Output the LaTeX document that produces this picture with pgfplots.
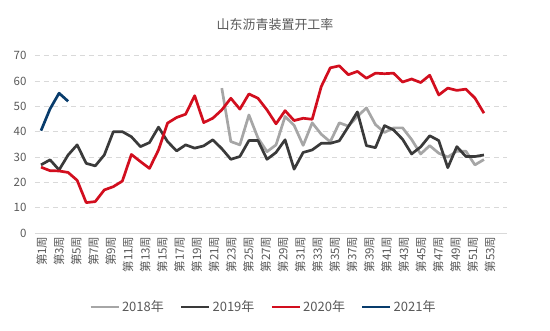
\documentclass[border=0pt]{standalone}
\usepackage{pgfplots}
\pgfplotsset{compat=1.18}
\usepackage{fontspec}
\setmainfont{Noto Sans CJK SC}
\definecolor{c18}{RGB}{166,166,166}
\definecolor{c19}{RGB}{58,58,58}
\definecolor{c20}{RGB}{210,14,30}
\definecolor{c21}{RGB}{8,60,108}
\definecolor{gridc}{RGB}{217,217,217}
\definecolor{txtc}{RGB}{89,89,89}
\begin{document}
\begin{tikzpicture}[x=1pt,y=1pt]
\path[use as bounding box] (0,0) rectangle (550,330);
\node[font=\fontsize{13}{15}\selectfont, text=txtc] at (275,305) {山东沥青装置开工率};
\begin{axis}[
  at={(35pt,97pt)}, anchor=south west,
  width=472pt, height=177.3pt, scale only axis,
  xmin=0.336, xmax=52.55, ymin=0, ymax=70,
  axis x line*=bottom, axis y line*=left,
  x axis line style={draw=gridc, line width=1pt, -},
  y axis line style={draw=none},
  major tick length=0pt,
  ytick={0,10,20,30,40,50,60,70},
  ymajorgrids,
  major grid style={draw=gridc, line width=0.9pt, dash pattern=on 5pt off 4pt},
  /pgf/number format/assume math mode=true,
  yticklabel style={font=\fontsize{11.5}{12}\selectfont, text=txtc, xshift=-5pt},
  xtick={0.635,2.542,4.449,6.356,8.263,10.170,12.077,13.984,15.891,17.798,19.705,21.612,23.519,25.426,27.333,29.240,31.147,33.054,34.961,36.868,38.775,40.682,42.589,44.496,46.403,48.310,50.217},
  xticklabels={第1周,第3周,第5周,第7周,第9周,第11周,第13周,第15周,第17周,第19周,第21周,第23周,第25周,第27周,第29周,第31周,第33周,第35周,第37周,第39周,第41周,第43周,第45周,第47周,第49周,第51周,第53周},
  xticklabel style={rotate=90, anchor=east, font=\fontsize{11.5}{12}\selectfont, text=txtc, yshift=-4pt},
  legend columns=4,
  legend style={at={(0.484,-0.417)}, anchor=center, draw=none, fill=none,
    font=\fontsize{13}{14}\selectfont, text=txtc,
    /tikz/every even column/.append style={column sep=14pt},
    /tikz/every odd column/.append style={column sep=0pt}},
  legend image code/.code={\draw[#1] (0pt,0pt) -- (28pt,0pt);},
  legend cell align=left,
]
\addplot[c18, line width=2.7pt, line join=round] coordinates {
(21,57.2) (22,36.1) (23,34.8) (24,46.6) (25,37.5) (26,32.1) (27,34.8) (28,46.0) (29,42.5) (30,34.6)
(31,43.5) (32,39.0) (33,36.0) (34,43.5) (35,42.2) (36,46.0) (37,49.4) (38,42.8) (39,39.7) (40,41.5)
(41,41.5) (42,36.9) (43,31.2) (44,34.5) (45,31.5) (46,30.0) (47,32.3) (48,32.3) (49,26.9) (50,29.0)
};
\addlegendentry{2018年}
\addplot[c19, line width=2.7pt, line join=round] coordinates {
(1,26.9) (2,28.9) (3,24.9) (4,30.8) (5,34.8) (6,27.5) (7,26.5) (8,30.8) (9,40.0) (10,40.0)
(11,38.0) (12,34.1) (13,35.7) (14,41.8) (15,36.1) (16,32.4) (17,34.8) (18,33.5) (19,34.4) (20,36.8)
(21,33.3) (22,29.1) (23,30.2) (24,36.5) (25,36.5) (26,29.1) (27,31.8) (28,36.8) (29,25.2) (30,31.8)
(31,32.8) (32,35.4) (33,35.4) (34,36.4) (35,42.0) (36,47.8) (37,34.5) (38,33.7) (39,42.4) (40,40.7)
(41,37.0) (42,31.2) (43,34.0) (44,38.4) (45,36.5) (46,25.8) (47,34.1) (48,30.2) (49,30.2) (50,30.8)
};
\addlegendentry{2019年}
\addplot[c20, line width=2.7pt, line join=round] coordinates {
(1,26.0) (2,24.6) (3,24.5) (4,23.9) (5,20.8) (6,12.0) (7,12.4) (8,17.0) (9,18.3) (10,20.5)
(11,31.0) (12,28.2) (13,25.5) (14,32.8) (15,43.4) (16,45.6) (17,46.9) (18,54.2) (19,43.6) (20,45.3)
(21,48.6) (22,53.2) (23,48.9) (24,54.9) (25,53.2) (26,48.6) (27,43.1) (28,48.3) (29,44.4) (30,45.3)
(31,44.9) (32,57.8) (33,65.2) (34,66.0) (35,62.5) (36,63.8) (37,61.1) (38,63.1) (39,62.9) (40,63.1)
(41,59.6) (42,60.8) (43,59.4) (44,62.3) (45,54.5) (46,57.2) (47,56.3) (48,56.8) (49,53.3) (50,47.3)
};
\addlegendentry{2020年}
\addplot[c21, line width=2.7pt, line join=round] coordinates {
(1,40.4) (2,49.0) (3,55.2) (4,52.0)
};
\addlegendentry{2021年}
\end{axis}
\end{tikzpicture}
\end{document}
